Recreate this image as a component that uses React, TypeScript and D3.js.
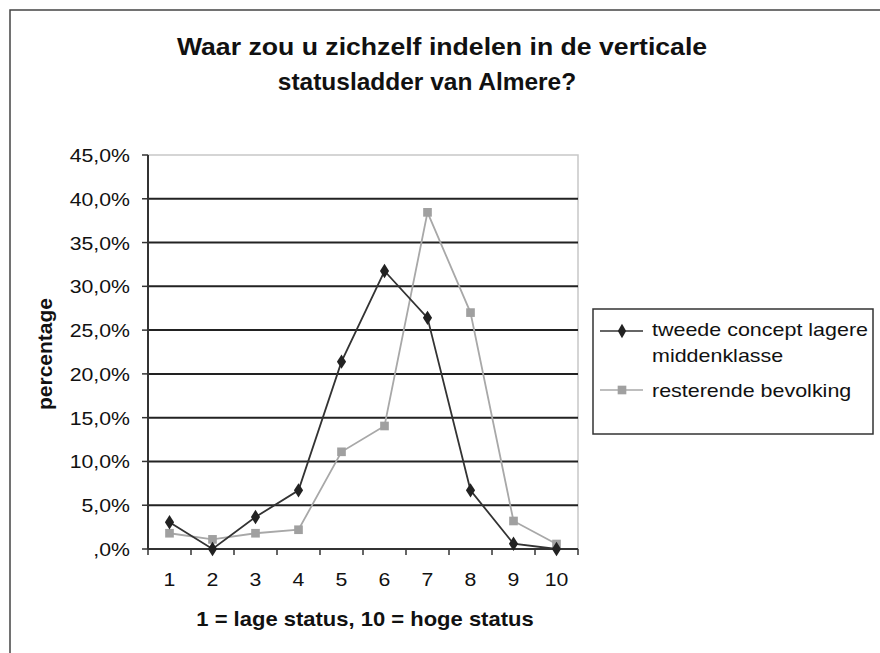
import React, { useEffect, useRef } from 'react';
import * as d3 from 'd3';

// values (fraction of respondents)
const categories = ['1', '2', '3', '4', '5', '6', '7', '8', '9', '10'];
const middenklasse = [0.0305, 0.0, 0.0365, 0.067, 0.214, 0.3175, 0.264, 0.067, 0.006, 0.0];
const resterend = [0.018, 0.011, 0.018, 0.022, 0.111, 0.1405, 0.3845, 0.27, 0.032, 0.0057];
const yTicks = [0, 0.05, 0.1, 0.15, 0.2, 0.25, 0.3, 0.35, 0.4, 0.45];
const yTickLabels = [',0%', '5,0%', '10,0%', '15,0%', '20,0%', '25,0%', '30,0%', '35,0%', '40,0%', '45,0%'];
const titleLines = ['Waar zou u zichzelf indelen in de verticale', 'statusladder van Almere?'];
const seriesNames = ['tweede concept lagere', 'middenklasse', 'resterende bevolking'];

const FONT = '"Liberation Sans", Arial, sans-serif';

const App = () => {
  const svgRef = useRef<SVGSVGElement>(null);

  useEffect(() => {
    const svg = d3.select(svgRef.current);
    svg.selectAll('*').remove();

    const width = 880, height = 653;
    const plot = { left: 148, right: 578, top: 155, bottom: 549 };

    // text helper, the original is slightly wider than Arial
    const txt = (g, x, y, s, size, sx, anchor, bold = false, rot = 0) =>
      g.append('text')
        .attr('transform', `translate(${x},${y}) rotate(${rot}) scale(${sx},1)`)
        .attr('font-family', FONT)
        .attr('font-size', size)
        .attr('font-weight', bold ? 'bold' : 'normal')
        .attr('text-anchor', anchor)
        .attr('fill', '#111')
        .text(s);

    svg.append('rect').attr('width', width).attr('height', height).attr('fill', '#fff');

    // outer chart border (runs off right and bottom)
    svg.append('rect')
      .attr('x', 10).attr('y', 10)
      .attr('width', 900).attr('height', 700)
      .attr('fill', 'none').attr('stroke', '#444').attr('stroke-width', 1.5);

    // title
    txt(svg, 442, 55, titleLines[0], 24, 1.11, 'middle', true);
    txt(svg, 427, 90, titleLines[1], 24, 1.02, 'middle', true);

    var x = d3.scaleBand().domain(categories).range([plot.left, plot.right]);
    var y = d3.scaleLinear().domain([0, 0.45]).range([plot.bottom, plot.top]);
    var cx = (c) => x(c) + x.bandwidth() / 2;

    // plot border (light)
    svg.append('path')
      .attr('d', `M${plot.left},${plot.top}H${plot.right}V${plot.bottom}`)
      .attr('fill', 'none').attr('stroke', '#c8c8c8').attr('stroke-width', 1.5);

    // gridlines
    svg.append('g').selectAll('line')
      .data(yTicks.slice(1, -1))
      .enter().append('line')
      .attr('x1', plot.left).attr('x2', plot.right)
      .attr('y1', (d) => y(d)).attr('y2', (d) => y(d))
      .attr('stroke', '#222').attr('stroke-width', 2);

    // y axis
    svg.append('line')
      .attr('x1', plot.left).attr('x2', plot.left)
      .attr('y1', plot.top).attr('y2', plot.bottom)
      .attr('stroke', '#333').attr('stroke-width', 2);
    svg.append('g').selectAll('line')
      .data(yTicks)
      .enter().append('line')
      .attr('x1', plot.left - 6).attr('x2', plot.left)
      .attr('y1', (d) => y(d)).attr('y2', (d) => y(d))
      .attr('stroke', '#333').attr('stroke-width', 1.5);
    yTicks.forEach((t, i) => {
      txt(svg, 130, y(t) + 7, yTickLabels[i], 19, 1.12, 'end');
    });

    // x axis
    svg.append('line')
      .attr('x1', plot.left).attr('x2', plot.right)
      .attr('y1', plot.bottom).attr('y2', plot.bottom)
      .attr('stroke', '#333').attr('stroke-width', 2);
    var bounds = categories.map((c) => x(c)).concat([plot.right]);
    svg.append('g').selectAll('line')
      .data(bounds)
      .enter().append('line')
      .attr('x1', (d) => d).attr('x2', (d) => d)
      .attr('y1', plot.bottom).attr('y2', plot.bottom + 6)
      .attr('stroke', '#333').attr('stroke-width', 1.5);
    categories.forEach((c) => {
      txt(svg, cx(c), 586, c, 19, 1.12, 'middle');
    });

    // axis titles
    txt(svg, 365, 626, '1 = lage status, 10 = hoge status', 20, 1.1, 'middle', true);
    txt(svg, 52, 354, 'percentage', 20, 1.05, 'middle', true, -90);

    // series
    var line = d3.line<number>()
      .x((d, i) => cx(categories[i]))
      .y((d) => y(d));

    var diamond = d3.symbol().type(d3.symbolDiamond).size(60);
    var square = d3.symbol().type(d3.symbolSquare).size(75);

    svg.append('path')
      .datum(resterend)
      .attr('d', line)
      .attr('fill', 'none').attr('stroke', '#a8a8a8').attr('stroke-width', 1.8);
    svg.append('g').selectAll('path')
      .data(resterend)
      .enter().append('path')
      .attr('d', square)
      .attr('transform', (d, i) => `translate(${cx(categories[i])},${y(d)})`)
      .attr('fill', '#a0a0a0');

    svg.append('path')
      .datum(middenklasse)
      .attr('d', line)
      .attr('fill', 'none').attr('stroke', '#333').attr('stroke-width', 1.8);
    svg.append('g').selectAll('path')
      .data(middenklasse)
      .enter().append('path')
      .attr('d', diamond)
      .attr('transform', (d, i) => `translate(${cx(categories[i])},${y(d)}) scale(1.1,1)`)
      .attr('fill', '#222');

    // legend
    var lg = svg.append('g');
    lg.append('rect')
      .attr('x', 593).attr('y', 309).attr('width', 280).attr('height', 125)
      .attr('fill', '#fff').attr('stroke', '#333').attr('stroke-width', 1.5);
    lg.append('line').attr('x1', 600).attr('x2', 643).attr('y1', 331).attr('y2', 331)
      .attr('stroke', '#333').attr('stroke-width', 1.5);
    lg.append('path').attr('d', diamond).attr('transform', 'translate(622,331)').attr('fill', '#222');
    lg.append('line').attr('x1', 600).attr('x2', 643).attr('y1', 390).attr('y2', 390)
      .attr('stroke', '#a8a8a8').attr('stroke-width', 1.5);
    lg.append('path').attr('d', square).attr('transform', 'translate(622,390)').attr('fill', '#a0a0a0');
    txt(lg, 652, 336, seriesNames[0], 19, 1.13, 'start');
    txt(lg, 652, 362, seriesNames[1], 19, 1.13, 'start');
    txt(lg, 652, 397, seriesNames[2], 19, 1.13, 'start');
  }, []);

  return (
    <svg ref={svgRef} width={880} height={653}
      style={{ position: 'absolute', left: 0, top: 0, display: 'block' }} />
  );
};

export default App;
